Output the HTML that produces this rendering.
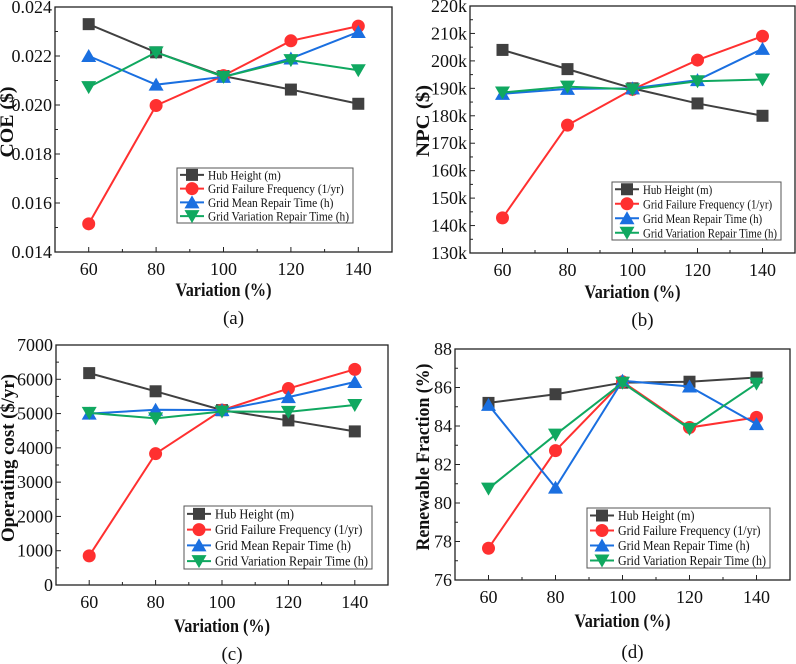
<!DOCTYPE html>
<html><head><meta charset="utf-8">
<style>
html,body{margin:0;padding:0;background:#fff;}
svg{display:block;}
svg text{font-family:"Liberation Serif","DejaVu Serif",serif;}
</style></head>
<body>
<svg id="fig" width="796" height="664" viewBox="0 0 796 664" xmlns="http://www.w3.org/2000/svg"></svg>
<script>
const xCats = [60, 80, 100, 120, 140];
const xTicks = [60, 80, 100, 120, 140];
const seriesNames = ["Hub Height (m)", "Grid Failure Frequency (1/yr)", "Grid Mean Repair Time (h)", "Grid Variation Repair Time (h)"];

const coeHub = [0.02330, 0.02215, 0.02118, 0.02063, 0.02005];
const coeFail = [0.01515, 0.01998, 0.02120, 0.02262, 0.02322];
const coeMean = [0.02200, 0.02083, 0.02115, 0.02190, 0.02298];
const coeVar = [0.02073, 0.02215, 0.02115, 0.02183, 0.02142];
const coeTicks = [0.014, 0.016, 0.018, 0.020, 0.022, 0.024];

const npcHub = [204000, 197000, 190000, 184500, 180000];
const npcFail = [142800, 176600, 189600, 200300, 209000];
const npcMean = [188000, 189800, 190000, 193000, 204400];
const npcVar = [188500, 190600, 189600, 192600, 193200];
const npcTicks = [130000, 140000, 150000, 160000, 170000, 180000, 190000, 200000, 210000, 220000];

const opHub = [6180, 5650, 5100, 4800, 4480];
const opFail = [850, 3830, 5100, 5730, 6290];
const opMean = [5000, 5110, 5100, 5480, 5920];
const opVar = [5020, 4860, 5060, 5050, 5250];
const opTicks = [0, 1000, 2000, 3000, 4000, 5000, 6000, 7000];

const rfHub = [85.2, 85.65, 86.25, 86.3, 86.52];
const rfFail = [77.65, 82.72, 86.3, 83.92, 84.45];
const rfMean = [85.1, 80.8, 86.35, 86.05, 84.1];
const rfVar = [80.75, 83.55, 86.25, 83.85, 86.2];
const rfTicks = [76, 78, 80, 82, 84, 86, 88];

const colors = ["#404040", "#ff3030", "#1a6fe0", "#10a860"];
const markers = ["square", "circle", "tri", "tridown"];
const NS = "http://www.w3.org/2000/svg";
const FONT = '"Liberation Serif", "DejaVu Serif", serif';
const svg = document.getElementById("fig");

function mk(tag, attrs, parent) {
  const e = document.createElementNS(NS, tag);
  for (const k in attrs) e.setAttribute(k, attrs[k]);
  if (tag === "text") e.setAttribute("font-family", FONT);
  (parent || svg).appendChild(e);
  return e;
}

function fitWidth(t, w) {
  const cur = t.getComputedTextLength();
  if (cur > 0 && Math.abs(cur - w) > 1) {
    t.setAttribute("textLength", w);
    t.setAttribute("lengthAdjust", "spacingAndGlyphs");
  }
}

function marker(g, type, x, y, c) {
  let e;
  if (type === "square") e = mk("rect", {x: x-6, y: y-6, width: 12, height: 12, fill: c}, g);
  else if (type === "circle") e = mk("circle", {cx: x, cy: y, r: 6.5, fill: c}, g);
  else if (type === "tri") e = mk("polygon", {points: `${x},${y-7} ${x-7.5},${y+6} ${x+7.5},${y+6}`, fill: c}, g);
  else e = mk("polygon", {points: `${x},${y+7} ${x-7.5},${y-6} ${x+7.5},${y-6}`, fill: c}, g);
  return e;
}

function panel(p) {
  const g = mk("g", {});
  
  
  const xs = v => p.xl + (v - 50) / 100 * (p.xr - p.xl);
  const ys = v => p.yb - (v - p.ymin) / (p.ymax - p.ymin) * (p.yb - p.yt);
  const fr = mk("rect", {x: p.xl, y: p.yt, width: p.xr - p.xl, height: p.yb - p.yt, fill: "none", stroke: "#222", "stroke-width": 1.3}, g);
  
  
  for (let v = 50; v <= 150; v += 10) {
    const major = xTicks.indexOf(v) >= 0;
    mk("line", {x1: xs(v), x2: xs(v), y1: p.yb, y2: p.yb - (major ? 5 : 3), stroke: "#222", "stroke-width": 1}, g);
  }
  xTicks.forEach(v => {
    const t = mk("text", {x: xs(v), y: p.yb + 23, "text-anchor": "middle", "font-size": 18, fill: "#111"}, g);
    t.textContent = v;
    
    
  });
  const tk = p.ticks;
  for (let i = 0; i < tk.length; i++) {
    mk("line", {x1: p.xl, x2: p.xl + 5, y1: ys(tk[i]), y2: ys(tk[i]), stroke: "#222", "stroke-width": 1}, g);
    if (i < tk.length - 1) {
      const m = (tk[i] + tk[i+1]) / 2;
      mk("line", {x1: p.xl, x2: p.xl + 3, y1: ys(m), y2: ys(m), stroke: "#222", "stroke-width": 1}, g);
    }
    const t = mk("text", {x: p.xl - 3, y: ys(tk[i]) + 6, "text-anchor": "end", "font-size": 18, fill: "#111"}, g);
    t.textContent = p.fmt(tk[i]);
    
    
  }
  p.series.forEach((s, si) => {
    const sg = mk("g", {}, g);
    
    
    const pts = s.map((v, i) => xs(xCats[i]) + "," + ys(v)).join(" ");
    mk("polyline", {points: pts, fill: "none", stroke: colors[si], "stroke-width": 2}, sg);
    s.forEach((v, i) => {
      const m = marker(sg, markers[si], xs(xCats[i]), ys(v), colors[si]);
      
      
    });
  });
  const L = p.leg;
  const lg = mk("g", {}, g);
  
  
  mk("rect", {x: L.x, y: L.y, width: L.w, height: L.h, fill: "#fff", stroke: "#555", "stroke-width": 1}, lg);
  const rowH = L.h / 4;
  const texts = [];
  seriesNames.forEach((n, si) => {
    const cy = L.y + rowH * (si + 0.5);
    const eg = mk("g", {}, lg);
    
    
    mk("line", {x1: L.x + 3, x2: L.x + 27, y1: cy, y2: cy, stroke: colors[si], "stroke-width": 2}, eg);
    marker(eg, markers[si], L.x + 15, cy, colors[si]);
    const t = mk("text", {x: L.x + 31, y: cy + 4.5, "font-size": L.fs, fill: "#111"}, eg);
    t.textContent = n;
    texts.push(t);
  });
  const lens = texts.map(t => t.getComputedTextLength());
  const maxLen = Math.max.apply(null, lens);
  const ratio = maxLen > 0 ? (L.w - 35) / maxLen : 1;
  texts.forEach((t, i) => fitWidth(t, lens[i] * ratio));

  const xt = mk("text", {x: (p.xl + p.xr) / 2, y: p.xty, "text-anchor": "middle", "font-size": 19, "font-weight": "bold", fill: "#111"}, g);
  xt.textContent = "Variation (%)";
  
  
  fitWidth(xt, 96);
  const yt = mk("text", {x: 0, y: 0, transform: `translate(${p.ytx},${p.ytc}) rotate(-90)`, "text-anchor": "middle", "font-size": 19, "font-weight": "bold", fill: "#111"}, g);
  yt.textContent = p.ytitle;
  
  
  fitWidth(yt, p.ytw);
  const cap = mk("text", {x: (p.xl + p.xr) / 2 + 10, y: p.capy, "text-anchor": "middle", "font-size": 19, fill: "#111"}, g);
  cap.textContent = p.cap;
  
  
}

panel({name: "panel-a-coe", xl: 55, xr: 392, yt: 7, yb: 252, ymin: 0.014, ymax: 0.024, ticks: coeTicks, fmt: v => v.toFixed(3),
  series: [coeHub, coeFail, coeMean, coeVar], leg: {x: 177, y: 168, w: 176, h: 55, fs: 12.5},
  xty: 296, ytx: 13, ytc: 122, ytw: 71, ytitle: "COE ($)", cap: "(a)", capy: 324});
panel({name: "panel-b-npc", xl: 470, xr: 795, yt: 6, yb: 253, ymin: 130000, ymax: 220000, ticks: npcTicks, fmt: v => (v / 1000) + "k",
  series: [npcHub, npcFail, npcMean, npcVar], leg: {x: 612, y: 182, w: 169, h: 58, fs: 12.5},
  xty: 298, ytx: 429, ytc: 121, ytw: 72, ytitle: "NPC ($)", cap: "(b)", capy: 326});
panel({name: "panel-c-operating-cost", xl: 56, xr: 388, yt: 345, yb: 585, ymin: 0, ymax: 7000, ticks: opTicks, fmt: v => String(v),
  series: [opHub, opFail, opMean, opVar], leg: {x: 184, y: 506, w: 188, h: 63, fs: 13.5},
  xty: 632, ytx: 14, ytc: 458, ytw: 168, ytitle: "Operating cost ($/yr)", cap: "(c)", capy: 660});
panel({name: "panel-d-renewable-fraction", xl: 455, xr: 790, yt: 349, yb: 580, ymin: 76, ymax: 88, ticks: rfTicks, fmt: v => String(v),
  series: [rfHub, rfFail, rfMean, rfVar], leg: {x: 587, y: 508, w: 183, h: 60, fs: 13.5},
  xty: 627, ytx: 429, ytc: 457, ytw: 187, ytitle: "Renewable Fraction (%)", cap: "(d)", capy: 658});
</script>
</body></html>
